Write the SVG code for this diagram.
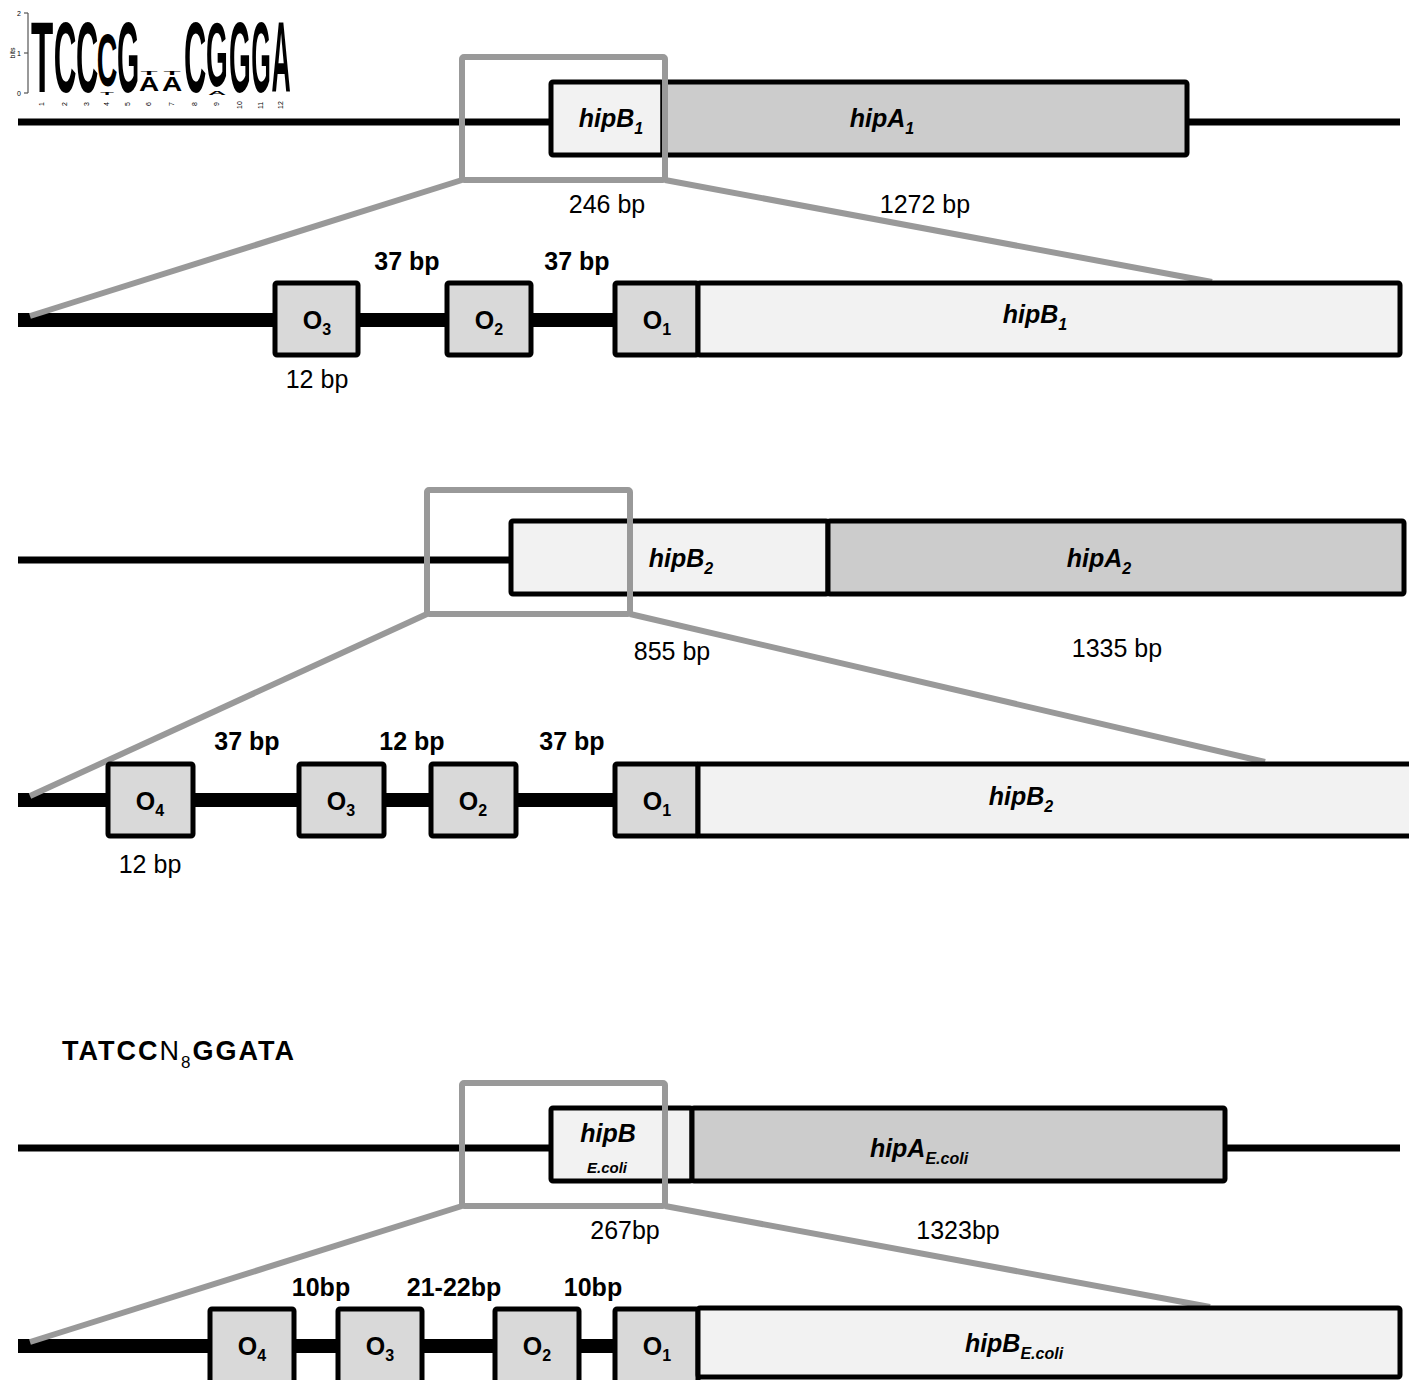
<svg xmlns="http://www.w3.org/2000/svg" width="1409" height="1380" viewBox="0 0 1409 1380">
<style>
.gene{stroke:#000;stroke-width:5;stroke-linejoin:round}
.light{fill:#f2f2f2}
.dark{fill:#cccccc}
.op{fill:#d9d9d9}
.zoom{fill:none;stroke:#999;stroke-width:6;stroke-linejoin:round}
.zl{stroke:#999;stroke-width:6}
.thin{stroke:#000;stroke-width:7}
.thick{stroke:#000;stroke-width:14}
text{font-family:"Liberation Sans",Arial,sans-serif;fill:#000}
.t22{font-size:25px}
.b{font-weight:bold}
.bi{font-weight:bold;font-style:italic}
.sub{font-size:16px}
.logo{font-size:28px;font-weight:bold;text-anchor:middle}
.tiny{font-size:7px}
.mid{text-anchor:middle}
</style>

<g id="logo">
  <line x1="28" y1="13" x2="28" y2="93" stroke="#555" stroke-width="1.2"/>
  <line x1="24" y1="13" x2="28" y2="13" stroke="#555" stroke-width="1.2"/>
  <line x1="24" y1="53" x2="28" y2="53" stroke="#555" stroke-width="1.2"/>
  <line x1="24" y1="93" x2="28" y2="93" stroke="#555" stroke-width="1.2"/>
  <text class="tiny" x="21" y="16" text-anchor="end" fill="#555">2</text>
  <text class="tiny" x="21" y="56" text-anchor="end" fill="#555">1</text>
  <text class="tiny" x="21" y="96" text-anchor="end" fill="#555">0</text>
  <text class="tiny" transform="translate(15,53) rotate(-90)" text-anchor="middle" fill="#777">bits</text>
  <text class="logo" transform="translate(42,92) scale(1.3,3.55)" fill="#808080">T</text>
  <text class="logo" transform="translate(65,92) scale(1.12,3.55)" fill="#111">C</text>
  <text class="logo" transform="translate(87,92) scale(1.1,3.55)" fill="#111">C</text>
  <text class="logo" transform="translate(107,86) scale(1.02,2.65)" fill="#111">C</text>
  <text class="logo" transform="translate(107,95) scale(0.8,0.15)" fill="#555">T</text>
  <text class="logo" transform="translate(128,92) scale(1.02,3.55)" fill="#bdbdbd">G</text>
  <text class="logo" transform="translate(149,75) scale(1,0.18)" fill="#777">T</text>
  <text class="logo" transform="translate(149,91) scale(1,0.7)" fill="#444">A</text>
  <text class="logo" transform="translate(172,75) scale(1,0.18)" fill="#777">T</text>
  <text class="logo" transform="translate(172,91) scale(1,0.7)" fill="#444">A</text>
  <text class="logo" transform="translate(195,92) scale(1.1,3.55)" fill="#111">C</text>
  <text class="logo" transform="translate(217,86) scale(1,3.25)" fill="#bdbdbd">G</text>
  <text class="logo" transform="translate(217,95) scale(0.9,0.17)" fill="#444">A</text>
  <text class="logo" transform="translate(240,92) scale(1,3.55)" fill="#bdbdbd">G</text>
  <text class="logo" transform="translate(261,92) scale(0.9,3.55)" fill="#bdbdbd">G</text>
  <text class="logo" transform="translate(281,92) scale(0.95,3.55)" fill="#333">A</text>
  <g class="tiny" fill="#333">
    <text transform="translate(44,106) rotate(-90)">1</text>
    <text transform="translate(67,106) rotate(-90)">2</text>
    <text transform="translate(89,106) rotate(-90)">3</text>
    <text transform="translate(109,106) rotate(-90)">4</text>
    <text transform="translate(130,106) rotate(-90)">5</text>
    <text transform="translate(151,106) rotate(-90)">6</text>
    <text transform="translate(174,106) rotate(-90)">7</text>
    <text transform="translate(197,106) rotate(-90)">8</text>
    <text transform="translate(219,106) rotate(-90)">9</text>
    <text transform="translate(242,109) rotate(-90)">10</text>
    <text transform="translate(263,109) rotate(-90)">11</text>
    <text transform="translate(283,109) rotate(-90)">12</text>
  </g>
</g>

<g id="connectors">
  <line class="thin" x1="18" y1="122" x2="553" y2="122"/>
  <line class="thin" x1="1185" y1="122" x2="1400" y2="122"/>
  <line class="thick" x1="18" y1="320" x2="276" y2="320"/>
  <line class="thick" x1="357" y1="320" x2="448" y2="320"/>
  <line class="thick" x1="530" y1="320" x2="616" y2="320"/>
  <line class="thin" x1="18" y1="560" x2="513" y2="560"/>
  <line class="thick" x1="18" y1="800" x2="110" y2="800"/>
  <line class="thick" x1="191" y1="800" x2="301" y2="800"/>
  <line class="thick" x1="382" y1="800" x2="433" y2="800"/>
  <line class="thick" x1="514" y1="800" x2="616" y2="800"/>
  <line class="thin" x1="18" y1="1148" x2="553" y2="1148"/>
  <line class="thin" x1="1223" y1="1148" x2="1400" y2="1148"/>
  <line class="thick" x1="18" y1="1346" x2="212" y2="1346"/>
  <line class="thick" x1="292" y1="1346" x2="340" y2="1346"/>
  <line class="thick" x1="420" y1="1346" x2="497" y2="1346"/>
  <line class="thick" x1="577" y1="1346" x2="616" y2="1346"/>
  <line class="zl" x1="462" y1="180" x2="30" y2="316"/>
  <line class="zl" x1="665" y1="180" x2="1212" y2="282"/>
  <line class="zl" x1="427" y1="614" x2="30" y2="796"/>
  <line class="zl" x1="630" y1="614" x2="1265" y2="762"/>
  <line class="zl" x1="462" y1="1206" x2="30" y2="1342"/>
  <line class="zl" x1="665" y1="1206" x2="1210" y2="1307"/>
</g>

<!-- Row 1 -->
<g id="hipB1-top">
  <rect class="gene light" x="551" y="82" width="112" height="73" rx="2"/>
  <text class="t22 bi mid" x="611" y="127">hipB<tspan class="sub" dy="7">1</tspan></text>
</g>
<g id="hipA1-top">
  <rect class="gene dark" x="663" y="82" width="524" height="73" rx="2"/>
  <text class="t22 bi mid" x="882" y="127">hipA<tspan class="sub" dy="7">1</tspan></text>
</g>
<g id="zoom1">
  <rect class="zoom" x="462" y="57" width="203" height="123" rx="2"/>
</g>
<text class="t22 mid" x="607" y="213">246 bp</text>
<text class="t22 mid" x="925" y="213">1272 bp</text>

<!-- Row 2 -->
<text class="t22 b mid" x="407" y="270">37 bp</text>
<text class="t22 b mid" x="577" y="270">37 bp</text>
<g id="O3-r2">
  <rect class="gene op" x="275" y="283" width="83" height="72" rx="2"/>
  <text class="t22 b mid" x="317" y="329">O<tspan class="sub" dy="6">3</tspan></text>
</g>
<g id="O2-r2">
  <rect class="gene op" x="447" y="283" width="84" height="72" rx="2"/>
  <text class="t22 b mid" x="489" y="329">O<tspan class="sub" dy="6">2</tspan></text>
</g>
<g id="O1-r2">
  <rect class="gene op" x="615" y="283" width="83" height="72" rx="2"/>
  <text class="t22 b mid" x="657" y="329">O<tspan class="sub" dy="6">1</tspan></text>
</g>
<g id="hipB1-detail">
  <rect class="gene light" x="698" y="283" width="702" height="72" rx="2"/>
  <text class="t22 bi mid" x="1035" y="323">hipB<tspan class="sub" dy="7">1</tspan></text>
</g>
<text class="t22 mid" x="317" y="388">12 bp</text>

<!-- Row 3 -->
<g id="hipB2-top">
  <rect class="gene light" x="511" y="521" width="317" height="73" rx="2"/>
  <text class="t22 bi mid" x="681" y="567">hipB<tspan class="sub" dy="7">2</tspan></text>
</g>
<g id="hipA2-top">
  <rect class="gene dark" x="828" y="521" width="576" height="73" rx="2"/>
  <text class="t22 bi mid" x="1099" y="567">hipA<tspan class="sub" dy="7">2</tspan></text>
</g>
<g id="zoom2">
  <rect class="zoom" x="427" y="490" width="203" height="124" rx="2"/>
</g>
<text class="t22 mid" x="672" y="660">855 bp</text>
<text class="t22 mid" x="1117" y="657">1335 bp</text>

<!-- Row 4 -->
<text class="t22 b mid" x="247" y="750">37 bp</text>
<text class="t22 b mid" x="412" y="750">12 bp</text>
<text class="t22 b mid" x="572" y="750">37 bp</text>
<g id="O4-r4">
  <rect class="gene op" x="108" y="764" width="85" height="72" rx="2"/>
  <text class="t22 b mid" x="150" y="810">O<tspan class="sub" dy="6">4</tspan></text>
</g>
<g id="O3-r4">
  <rect class="gene op" x="299" y="764" width="85" height="72" rx="2"/>
  <text class="t22 b mid" x="341" y="810">O<tspan class="sub" dy="6">3</tspan></text>
</g>
<g id="O2-r4">
  <rect class="gene op" x="431" y="764" width="85" height="72" rx="2"/>
  <text class="t22 b mid" x="473" y="810">O<tspan class="sub" dy="6">2</tspan></text>
</g>
<g id="O1-r4">
  <rect class="gene op" x="615" y="764" width="83" height="72" rx="2"/>
  <text class="t22 b mid" x="657" y="810">O<tspan class="sub" dy="6">1</tspan></text>
</g>
<g id="hipB2-detail">
  <rect class="gene light" x="698" y="764" width="720" height="72"/>
  <text class="t22 bi mid" x="1021" y="805">hipB<tspan class="sub" dy="7">2</tspan></text>
</g>
<text class="t22 mid" x="150" y="873">12 bp</text>

<!-- Row 5 -->
<text class="b" font-size="27" letter-spacing="2" x="62" y="1060">TATCC<tspan font-weight="normal">N</tspan><tspan font-size="17" font-weight="normal" dy="8">8</tspan><tspan dy="-8">GGATA</tspan></text>
<g id="hipBEcoli-top">
  <rect class="gene light" x="551" y="1108" width="141" height="73" rx="2"/>
  <text class="t22 bi mid" x="608" y="1142">hipB</text>
  <text class="bi mid" font-size="15" x="607" y="1173">E.coli</text>
</g>
<g id="hipAEcoli-top">
  <rect class="gene dark" x="692" y="1108" width="533" height="73" rx="2"/>
  <text class="t22 bi mid" x="919" y="1157">hipA<tspan class="sub" dy="7">E.coli</tspan></text>
</g>
<g id="zoom3">
  <rect class="zoom" x="462" y="1083" width="203" height="123" rx="2"/>
</g>
<text class="t22 mid" x="625" y="1239">267bp</text>
<text class="t22 mid" x="958" y="1239">1323bp</text>

<!-- Row 6 -->
<text class="t22 b mid" x="321" y="1296">10bp</text>
<text class="t22 b mid" x="454" y="1296">21-22bp</text>
<text class="t22 b mid" x="593" y="1296">10bp</text>
<g id="O4-r6">
  <rect class="gene op" x="210" y="1309" width="84" height="80" rx="2"/>
  <text class="t22 b mid" x="252" y="1355">O<tspan class="sub" dy="6">4</tspan></text>
</g>
<g id="O3-r6">
  <rect class="gene op" x="338" y="1309" width="84" height="80" rx="2"/>
  <text class="t22 b mid" x="380" y="1355">O<tspan class="sub" dy="6">3</tspan></text>
</g>
<g id="O2-r6">
  <rect class="gene op" x="495" y="1309" width="84" height="80" rx="2"/>
  <text class="t22 b mid" x="537" y="1355">O<tspan class="sub" dy="6">2</tspan></text>
</g>
<g id="O1-r6">
  <rect class="gene op" x="615" y="1309" width="83" height="80" rx="2"/>
  <text class="t22 b mid" x="657" y="1355">O<tspan class="sub" dy="6">1</tspan></text>
</g>
<g id="hipBEcoli-detail">
  <rect class="gene light" x="698" y="1308" width="702" height="69" rx="2"/>
  <text class="t22 bi mid" x="1014" y="1352">hipB<tspan class="sub" dy="7">E.coli</tspan></text>
</g>
</svg>
